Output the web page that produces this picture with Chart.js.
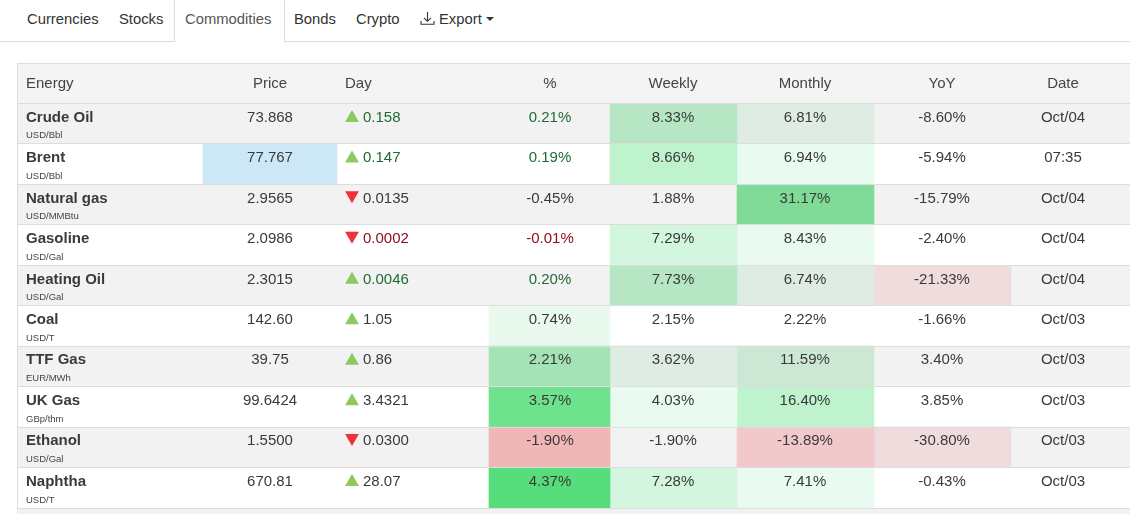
<!DOCTYPE html>
<html>
<head>
<meta charset="utf-8">
<title>Commodities</title>
<script src="https://cdn.jsdelivr.net/npm/chart.js@4"></script>
<style>
    html, body { margin: 0; padding: 0; background: #fff; overflow: hidden; }
    body { width: 1130px; height: 514px; position: relative; font-family: "Liberation Sans", Arial, sans-serif; color: #333; }
    #nav { position: absolute; left: 0; top: 0; width: 1130px; height: 41px; border-bottom: 1px solid #ddd; }
    #nav span { position: absolute; top: 10px; font-size: 14.8px; line-height: 18px; }
    #activeTab { position: absolute; left: 174px; top: 0; width: 109px; height: 42px; background: #fff; border: 1px solid #ddd; border-width: 0 1px; }
    #nav svg { position: absolute; left: 420px; top: 11px; }
    #caret { position: absolute; left: 486px; top: 17px; border: 4.5px solid transparent; border-top-color: #333; border-bottom: 0; }
    #chartBox { position: absolute; left: 16px; top: 62px; width: 1114px; height: 447px; }
    #nextRow { position: absolute; left: 17px; top: 509px; width: 1113px; height: 5px; background: #f2f2f2; }
</style>
</head>
<body>

<div id="nav">
    <div id="activeTab"></div>
    <span style="left:27px">Currencies</span>
    <span style="left:119px">Stocks</span>
    <span style="left:185px;color:#555">Commodities</span>
    <span style="left:294px">Bonds</span>
    <span style="left:356px">Crypto</span>
    <svg width="15" height="15" viewBox="0 0 15 15" fill="none" stroke="#333" stroke-width="1.1">
        <path d="M7.5 1V10M4 6.8L7.5 10.3L11 6.8M1 10V13.2H14V10"/>
    </svg>
    <span style="left:439px">Export</span>
    <div id="caret"></div>
</div>

<div id="chartBox"><canvas id="myChart"></canvas></div>
<div id="nextRow"></div>

<script>
// Table data
const rows = ['Energy', 'Crude Oil', 'Brent', 'Natural gas', 'Gasoline', 'Heating Oil', 'Coal', 'TTF Gas', 'UK Gas', 'Ethanol', 'Naphtha'];
const headers = ['Price', 'Day', '%', 'Weekly', 'Monthly', 'YoY', 'Date'];
const units = ['', 'USD/Bbl', 'USD/Bbl', 'USD/MMBtu', 'USD/Gal', 'USD/Gal', 'USD/T', 'EUR/MWh', 'GBp/thm', 'USD/Gal', 'USD/T'];
const prices = ['73.868', '77.767', '2.9565', '2.0986', '2.3015', '142.60', '39.75', '99.6424', '1.5500', '670.81'];
const dayChanges = ['0.158', '0.147', '0.0135', '0.0002', '0.0046', '1.05', '0.86', '3.4321', '0.0300', '28.07'];
const dayDirections = ['up', 'up', 'down', 'down', 'up', 'up', 'up', 'up', 'down', 'up'];
const percents = ['0.21%', '0.19%', '-0.45%', '-0.01%', '0.20%', '0.74%', '2.21%', '3.57%', '-1.90%', '4.37%'];
const weekly = ['8.33%', '8.66%', '1.88%', '7.29%', '7.73%', '2.15%', '3.62%', '4.03%', '-1.90%', '7.28%'];
const monthly = ['6.81%', '6.94%', '31.17%', '8.43%', '6.74%', '2.22%', '11.59%', '16.40%', '-13.89%', '7.41%'];
const yoy = ['-8.60%', '-5.94%', '-15.79%', '-2.40%', '-21.33%', '-1.66%', '3.40%', '3.85%', '-30.80%', '-0.43%'];
const dates = ['Oct/04', '07:35', 'Oct/04', 'Oct/04', 'Oct/04', 'Oct/03', 'Oct/03', 'Oct/03', 'Oct/03', 'Oct/03'];

// Cell colours (null = row background shows)
const priceFill = [null, '#cce8f6', null, null, null, null, null, null, null, null];
const percentFill = [null, null, null, null, null, '#e9f9ee', '#a4e3b5', '#6fe28e', '#f0b7b7', '#58dd7c'];
const weeklyFill = ['#b6e6c3', '#bff3cd', null, '#d3f6de', '#b6e6c3', null, '#deece3', '#e9fbf0', null, '#d3f6de'];
const monthlyFill = ['#deece3', '#e9fbf0', '#7fdb97', '#e9fbf0', '#deece3', null, '#cce8d5', '#bff3cd', '#f1c9cb', '#e9fbf0'];
const yoyFill = [null, null, null, null, '#f1dcdd', null, null, null, '#f1dcdd', null];

// Layout : x axis runs in page pixels, edges and text anchors of the columns
const xMin = 17, xMax = 1130;
const priceCol = [203, 337], percentCol = [489, 610], weeklyCol = [610, 737], monthlyCol = [737, 874], yoyCol = [874, 1011];
const nameX = 26, unitX = 26, dayX = 345, dayTextX = 363, triangleX = 352;
const centers = { price: 270, percent: 550, weekly: 673, monthly: 805, yoy: 942, date: 1063 };

const textColor = '#3a3a3a';
const green = '#1f6b35';
const red = '#8a1022';
const up = '#8cc95f';
const down = '#ee3338';

// Dark green / red only on the first rows, as in the page
const dayTextColors = [green, green, textColor, red, green, textColor, textColor, textColor, textColor, textColor];
const percentTextColors = [green, green, textColor, red, green, textColor, textColor, textColor, textColor, textColor];

const stripes = rows.map((r, i) => (i === 0 ? '#f4f4f4' : i % 2 === 1 ? '#f2f2f2' : '#ffffff'));

// One dataset per coloured column, floating bars over the row background
const cellDataset = (col, fills) => ({
    type: 'bar',
    indexAxis: 'y',
    order: 2,
    grouped: false,
    barPercentage: 1,
    categoryPercentage: 1,
    borderWidth: 0,
    xAxisID: 'x',
    yAxisID: 'y',
    data: [null].concat(fills.map(f => (f ? col : null))),
    backgroundColor: ['transparent'].concat(fills.map(f => f || 'transparent'))
});

// Text of the table, placed through the chart scales
const tableText = {
    id: 'tableText',
    afterDatasetsDraw(chart) {
        const ctx = chart.ctx;
        const x = chart.scales.x;
        const y = chart.scales.yv;
        const put = (text, px, row, font, color, align) => {
            ctx.font = font;
            ctx.fillStyle = color;
            ctx.textAlign = align;
            ctx.textBaseline = 'middle';
            ctx.fillText(text, x.getPixelForValue(px), y.getPixelForValue(row));
        };
        const normal = '15px "Liberation Sans"';
        const bold = 'bold 15px "Liberation Sans"';
        const small = '9.5px "Liberation Sans"';
        const h = 0.02;
        ctx.save();
        put(rows[0], nameX, h, normal, '#444', 'left');
        put(headers[0], centers.price, h, normal, '#444', 'center');
        put(headers[1], dayX, h, normal, '#444', 'left');
        put(headers[2], centers.percent, h, normal, '#444', 'center');
        put(headers[3], centers.weekly, h, normal, '#444', 'center');
        put(headers[4], centers.monthly, h, normal, '#444', 'center');
        put(headers[5], centers.yoy, h, normal, '#444', 'center');
        put(headers[6], centers.date, h, normal, '#444', 'center');
        for (let i = 0; i < prices.length; i++) {
            const row = i + 1;
            const t = row - 0.15;
            put(rows[row], nameX, t, bold, textColor, 'left');
            put(units[row], unitX, row + 0.3, small, '#444', 'left');
            put(prices[i], centers.price, t, normal, textColor, 'center');
            put(dayChanges[i], dayTextX, t, normal, dayTextColors[i], 'left');
            put(percents[i], centers.percent, t, normal, percentTextColors[i], 'center');
            put(weekly[i], centers.weekly, t, normal, textColor, 'center');
            put(monthly[i], centers.monthly, t, normal, textColor, 'center');
            put(yoy[i], centers.yoy, t, normal, textColor, 'center');
            put(dates[i], centers.date, t, normal, textColor, 'center');
        }
        ctx.restore();
    }
};

new Chart(document.getElementById('myChart'), {
    type: 'bar',
    data: {
        labels: rows,
        datasets: [
            {
                // Row background
                type: 'bar',
                indexAxis: 'y',
                order: 3,
                grouped: false,
                barPercentage: 1,
                categoryPercentage: 1,
                borderWidth: 0,
                xAxisID: 'x',
                yAxisID: 'y',
                data: rows.map(() => [xMin, xMax]),
                backgroundColor: stripes
            },
            cellDataset(priceCol, priceFill),
            cellDataset(percentCol, percentFill),
            cellDataset(weeklyCol, weeklyFill),
            cellDataset(monthlyCol, monthlyFill),
            cellDataset(yoyCol, yoyFill),
            {
                // Day arrows
                type: 'scatter',
                order: 1,
                xAxisID: 'x',
                yAxisID: 'yv',
                showLine: false,
                data: dayDirections.map((d, i) => ({ x: triangleX, y: i + 1 + (d === 'up' ? -0.14 : -0.23) })),
                pointStyle: 'triangle',
                pointRadius: 8,
                pointRotation: dayDirections.map(d => (d === 'up' ? 0 : 180)),
                pointBackgroundColor: dayDirections.map(d => (d === 'up' ? up : down)),
                pointBorderWidth: 0
            }
        ]
    },
    options: {
        responsive: true,
        maintainAspectRatio: false,
        animation: false,
        layout: { autoPadding: false, padding: { left: 1, top: 1, right: 0, bottom: 1 } },
        plugins: { legend: { display: false }, tooltip: { enabled: false } },
        scales: {
            x: { type: 'linear', axis: 'x', min: xMin, max: xMax, offset: false, display: false },
            y: {
                type: 'category',
                axis: 'y',
                labels: rows,
                offset: true,
                grid: { color: '#dddddd', z: 1, drawTicks: false, offset: true },
                border: { color: '#dddddd', z: 1 },
                ticks: { display: false }
            },
            yv: { type: 'linear', axis: 'y', min: -0.5, max: 10.5, reverse: true, offset: false, display: false }
        }
    },
    plugins: [tableText]
});
</script>
</body>
</html>
